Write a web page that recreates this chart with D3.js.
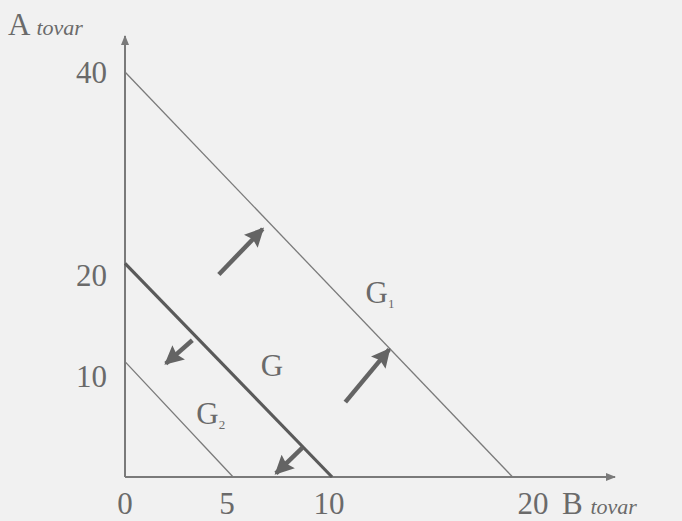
<!DOCTYPE html>
<html>
<head>
<meta charset="utf-8">
<script src="https://cdn.jsdelivr.net/npm/d3@7"></script>
<style>
  html, body { margin: 0; padding: 0; background: #f1f1f1; }
  svg { display: block; }
  text { font-family: "Liberation Serif", "DejaVu Serif", serif; fill: #6a6a6a; }
</style>
</head>
<body>
<svg id="chart" width="682" height="521"></svg>
<script>
// budget lines: [A intercept, B intercept]
var lineNames = ['G1', 'G', 'G2'];
var intercepts = [[40, 19.0], [21.1, 10.15], [11.4, 5.3]];
var lineWidths = [1.3, 3.2, 1.3];

var xTicks = [0, 5, 10, 20];
var yTicks = [10, 20, 40];

// shift arrows: [x0, y0, x1, y1] in goods units
var shiftArrows = [
  [4.6, 20.0, 6.75, 24.5],
  [10.8, 7.4, 12.95, 12.6],
  [3.3, 13.5, 2.0, 11.2],
  [8.7, 2.9, 7.4, 0.35]
];

// line labels: [text, sub, x, y]
var lineLabels = [
  ['G', '1', 12.5, 18.3],
  ['G', '', 7.2, 11.1],
  ['G', '2', 4.2, 6.3]
];

var svg = d3.select('#chart');
var x = d3.scaleLinear().domain([0, 20]).range([125, 533]);
var y = d3.scaleLinear().domain([0, 40]).range([477, 72]);
var ink = '#7a7a7a';

var defs = svg.append('defs');
defs.append('marker').attr('id', 'axisHead')
  .attr('viewBox', '0 0 10 10').attr('refX', 9).attr('refY', 5)
  .attr('markerWidth', 12).attr('markerHeight', 10).attr('markerUnits', 'userSpaceOnUse')
  .attr('orient', 'auto')
  .append('path').attr('d', 'M0,1 L10,5 L0,9 Z').attr('fill', ink);
defs.append('marker').attr('id', 'shiftHead')
  .attr('viewBox', '0 0 10 10').attr('refX', 9).attr('refY', 5)
  .attr('markerWidth', 20).attr('markerHeight', 19).attr('markerUnits', 'userSpaceOnUse')
  .attr('orient', 'auto')
  .append('path').attr('d', 'M0,0 L10,5 L0,10 L1.5,5 Z').attr('fill', '#646464');

// axes
svg.append('line')
  .attr('x1', x(0)).attr('y1', y(0)).attr('x2', 615).attr('y2', y(0))
  .attr('stroke', ink).attr('stroke-width', 2).attr('marker-end', 'url(#axisHead)');
svg.append('line')
  .attr('x1', x(0)).attr('y1', y(0)).attr('x2', x(0)).attr('y2', 36)
  .attr('stroke', ink).attr('stroke-width', 2).attr('marker-end', 'url(#axisHead)');

svg.selectAll('.xtick').data(xTicks).enter().append('text')
  .attr('class', 'xtick')
  .attr('x', function(d) { return x(d); })
  .attr('y', 514)
  .attr('text-anchor', 'middle')
  .attr('font-size', 31)
  .text(function(d) { return d; });

svg.selectAll('.ytick').data(yTicks).enter().append('text')
  .attr('class', 'ytick')
  .attr('x', 107)
  .attr('y', function(d) { return y(d) + 11; })
  .attr('text-anchor', 'end')
  .attr('font-size', 31)
  .text(function(d) { return d; });

var aLabel = svg.append('text').attr('x', 8).attr('y', 35).attr('font-size', 31);
aLabel.append('tspan').text('A ');
aLabel.append('tspan').attr('font-style', 'italic').attr('font-size', 22).text('tovar');

var bLabel = svg.append('text').attr('x', 562).attr('y', 514).attr('font-size', 31);
bLabel.append('tspan').text('B ');
bLabel.append('tspan').attr('font-style', 'italic').attr('font-size', 22).text('tovar');

// budget lines
svg.selectAll('.budget').data(intercepts).enter().append('line')
  .attr('class', 'budget')
  .attr('x1', x(0)).attr('y1', function(d) { return y(d[0]); })
  .attr('x2', function(d) { return x(d[1]); }).attr('y2', y(0))
  .attr('stroke', function(d, i) { return i === 1 ? '#5a5a5a' : ink; })
  .attr('stroke-width', function(d, i) { return lineWidths[i]; });

// shift arrows
svg.selectAll('.shift').data(shiftArrows).enter().append('line')
  .attr('class', 'shift')
  .attr('x1', function(d) { return x(d[0]); }).attr('y1', function(d) { return y(d[1]); })
  .attr('x2', function(d) { return x(d[2]); }).attr('y2', function(d) { return y(d[3]); })
  .attr('stroke', '#646464').attr('stroke-width', 4.5)
  .attr('marker-end', 'url(#shiftHead)');

// labels
var labs = svg.selectAll('.lab').data(lineLabels).enter().append('text')
  .attr('class', 'lab')
  .attr('x', function(d) { return x(d[2]); })
  .attr('y', function(d) { return y(d[3]) + 11; })
  .attr('text-anchor', 'middle')
  .attr('font-size', 31);
labs.append('tspan').text(function(d) { return d[0]; });
labs.append('tspan').attr('font-size', 13).attr('dy', 5)
  .text(function(d) { return d[1]; });
</script>
</body>
</html>
